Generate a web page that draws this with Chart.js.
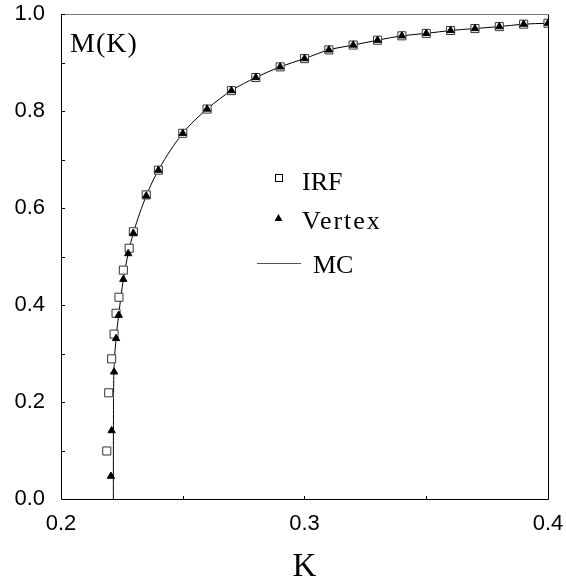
<!DOCTYPE html>
<html>
<head>
<meta charset="utf-8">
<script src="https://cdn.jsdelivr.net/npm/chart.js@4"></script>
<style>
  body { margin: 0; background: #fff; }
  #wrap { width: 566px; height: 581px; }
</style>
</head>
<body>
<div id="wrap"><canvas id="myChart" width="566" height="581"></canvas></div>
<script>
// IRF data (open squares)
const irfK = [0.2188, 0.2196, 0.2208, 0.2218, 0.2226, 0.2238, 0.2256, 0.2280, 0.2297,
  0.235, 0.24, 0.25, 0.26, 0.27, 0.28, 0.29, 0.30, 0.31, 0.32, 0.33, 0.34, 0.35, 0.36, 0.37, 0.38, 0.39, 0.40];
const irfM = [0.099, 0.219, 0.289, 0.340, 0.383, 0.416, 0.472, 0.517, 0.551,
  0.627, 0.678, 0.754, 0.804, 0.842, 0.869, 0.891, 0.908, 0.926, 0.936, 0.946, 0.955, 0.960, 0.966, 0.970, 0.974, 0.979, 0.981];

// Vertex data (filled triangles)
const vertexK = [0.2205, 0.2208, 0.2218, 0.2226, 0.2237, 0.2256, 0.2276, 0.2297,
  0.235, 0.24, 0.25, 0.26, 0.27, 0.28, 0.29, 0.30, 0.31, 0.32, 0.33, 0.34, 0.35, 0.36, 0.37, 0.38, 0.39, 0.40];
const vertexM = [0.047, 0.141, 0.262, 0.331, 0.379, 0.453, 0.506, 0.548,
  0.625, 0.678, 0.754, 0.804, 0.842, 0.869, 0.891, 0.908, 0.926, 0.936, 0.946, 0.955, 0.960, 0.966, 0.970, 0.974, 0.979, 0.981];

// MC curve
const mcK = [0.22150, 0.22152, 0.2216, 0.2219, 0.2226, 0.2237, 0.2256, 0.2276, 0.2297,
  0.235, 0.24, 0.25, 0.26, 0.27, 0.28, 0.29, 0.30, 0.31, 0.32, 0.33, 0.34, 0.35, 0.36, 0.37, 0.38, 0.39, 0.40];
const mcM = [0.0, 0.12, 0.22, 0.28, 0.33, 0.38, 0.453, 0.506, 0.548,
  0.625, 0.678, 0.754, 0.804, 0.842, 0.869, 0.891, 0.908, 0.926, 0.936, 0.946, 0.955, 0.960, 0.966, 0.970, 0.974, 0.979, 0.981];

const xTicks = [0.2, 0.3, 0.4];
const yTicks = [0.0, 0.2, 0.4, 0.6, 0.8, 1.0];

const toPts = (xs, ys) => xs.map((x, i) => ({x: x, y: ys[i]}));

const serif = '"Liberation Serif", "Times New Roman", serif';
const sans = '"Liberation Sans", Arial, sans-serif';

// frame, inner ticks, labels and legend
const decor = {
  id: 'decor',
  afterDraw(chart) {
    const ctx = chart.ctx;
    const a = chart.chartArea;
    const xs = chart.scales.x, ys = chart.scales.y;
    ctx.save();
    ctx.lineWidth = 1;
    // frame
    ctx.strokeStyle = '#000';
    ctx.beginPath();
    ctx.moveTo(a.left + 0.5, a.top); ctx.lineTo(a.left + 0.5, a.bottom + 0.5);
    ctx.lineTo(a.right + 0.5, a.bottom + 0.5); ctx.lineTo(a.right + 0.5, a.top);
    ctx.stroke();
    ctx.strokeStyle = '#777';
    ctx.beginPath();
    ctx.moveTo(a.left, a.top + 0.5); ctx.lineTo(a.right + 1, a.top + 0.5);
    ctx.stroke();
    // minor ticks, pointing in
    ctx.strokeStyle = '#000';
    ctx.beginPath();
    for (let v = 0.1; v < 1.0; v += 0.1) {
      const py = Math.round(ys.getPixelForValue(v)) + 0.5;
      ctx.moveTo(a.left, py); ctx.lineTo(a.left + 4, py);
    }
    for (const v of [0.25, 0.3, 0.35]) {
      const px = Math.round(xs.getPixelForValue(v)) + 0.5;
      ctx.moveTo(px, a.bottom); ctx.lineTo(px, a.bottom - 3);
    }
    ctx.stroke();

    ctx.fillStyle = '#000';
    ctx.textBaseline = 'alphabetic';
    // y label inside the box
    ctx.font = '28px ' + serif;
    ctx.textAlign = 'left';
    ctx.letterSpacing = '1px';
    ctx.fillText('M(K)', a.left + 9, a.top + 38);
    ctx.letterSpacing = '0px';
    // x title
    ctx.font = '33px ' + serif;
    ctx.textAlign = 'center';
    ctx.fillText('K', (a.left + a.right) / 2, 576);

    // legend
    ctx.font = '26px ' + serif;
    ctx.textAlign = 'left';
    ctx.strokeStyle = '#000';
    ctx.strokeRect(275.5, 174.5, 7, 7);
    ctx.fillText('IRF', 302, 190);
    ctx.beginPath();
    ctx.moveTo(278.5, 214); ctx.lineTo(282.5, 221); ctx.lineTo(274.5, 221); ctx.closePath();
    ctx.fill();
    ctx.letterSpacing = '2px';
    ctx.fillText('Vertex', 302, 229);
    ctx.letterSpacing = '0px';
    ctx.strokeStyle = '#555';
    ctx.beginPath();
    ctx.moveTo(257, 263.5); ctx.lineTo(301, 263.5);
    ctx.stroke();
    ctx.fillText('MC', 313, 273);
    ctx.restore();
  }
};

new Chart(document.getElementById('myChart'), {
  type: 'scatter',
  data: {
    datasets: [
      {
        label: 'MC',
        type: 'line',
        data: toPts(mcK, mcM),
        borderColor: '#000',
        borderWidth: 1,
        pointRadius: 0,
        fill: false,
        cubicInterpolationMode: 'monotone',
        order: 3
      },
      {
        label: 'IRF',
        data: toPts(irfK, irfM),
        pointStyle: 'rect',
        pointRadius: 5.7,
        backgroundColor: '#fff',
        borderColor: '#333',
        borderWidth: 1,
        order: 2
      },
      {
        label: 'Vertex',
        data: toPts(vertexK, vertexM),
        pointStyle: 'triangle',
        pointRadius: 4.2,
        backgroundColor: '#000',
        borderColor: '#000',
        borderWidth: 1,
        order: 1
      }
    ]
  },
  options: {
    responsive: false,
    animation: false,
    layout: { padding: { top: 14, right: 18, left: 0, bottom: 0 } },
    plugins: {
      legend: { display: false },
      tooltip: { enabled: false }
    },
    scales: {
      x: {
        type: 'linear',
        min: 0.2,
        max: 0.4,
        afterBuildTicks: (s) => { s.ticks = xTicks.map(v => ({value: v})); },
        afterFit: (s) => { s.height = 82; s.paddingLeft = 0; s.paddingRight = 0; },
        grid: { display: false, drawTicks: false },
        border: { display: false },
        ticks: {
          color: '#000',
          font: { family: sans, size: 22 },
          padding: 12,
          maxRotation: 0,
          callback: (v) => v.toFixed(1)
        }
      },
      y: {
        type: 'linear',
        min: 0,
        max: 1,
        afterBuildTicks: (s) => { s.ticks = yTicks.map(v => ({value: v})); },
        afterFit: (s) => { s.width = 61; s.paddingTop = 0; s.paddingBottom = 0; },
        grid: { display: false, drawTicks: false },
        border: { display: false },
        ticks: {
          color: '#000',
          font: { family: sans, size: 22 },
          padding: 16,
          callback: (v) => v.toFixed(1)
        }
      }
    }
  },
  plugins: [decor]
});
</script>
</body>
</html>
